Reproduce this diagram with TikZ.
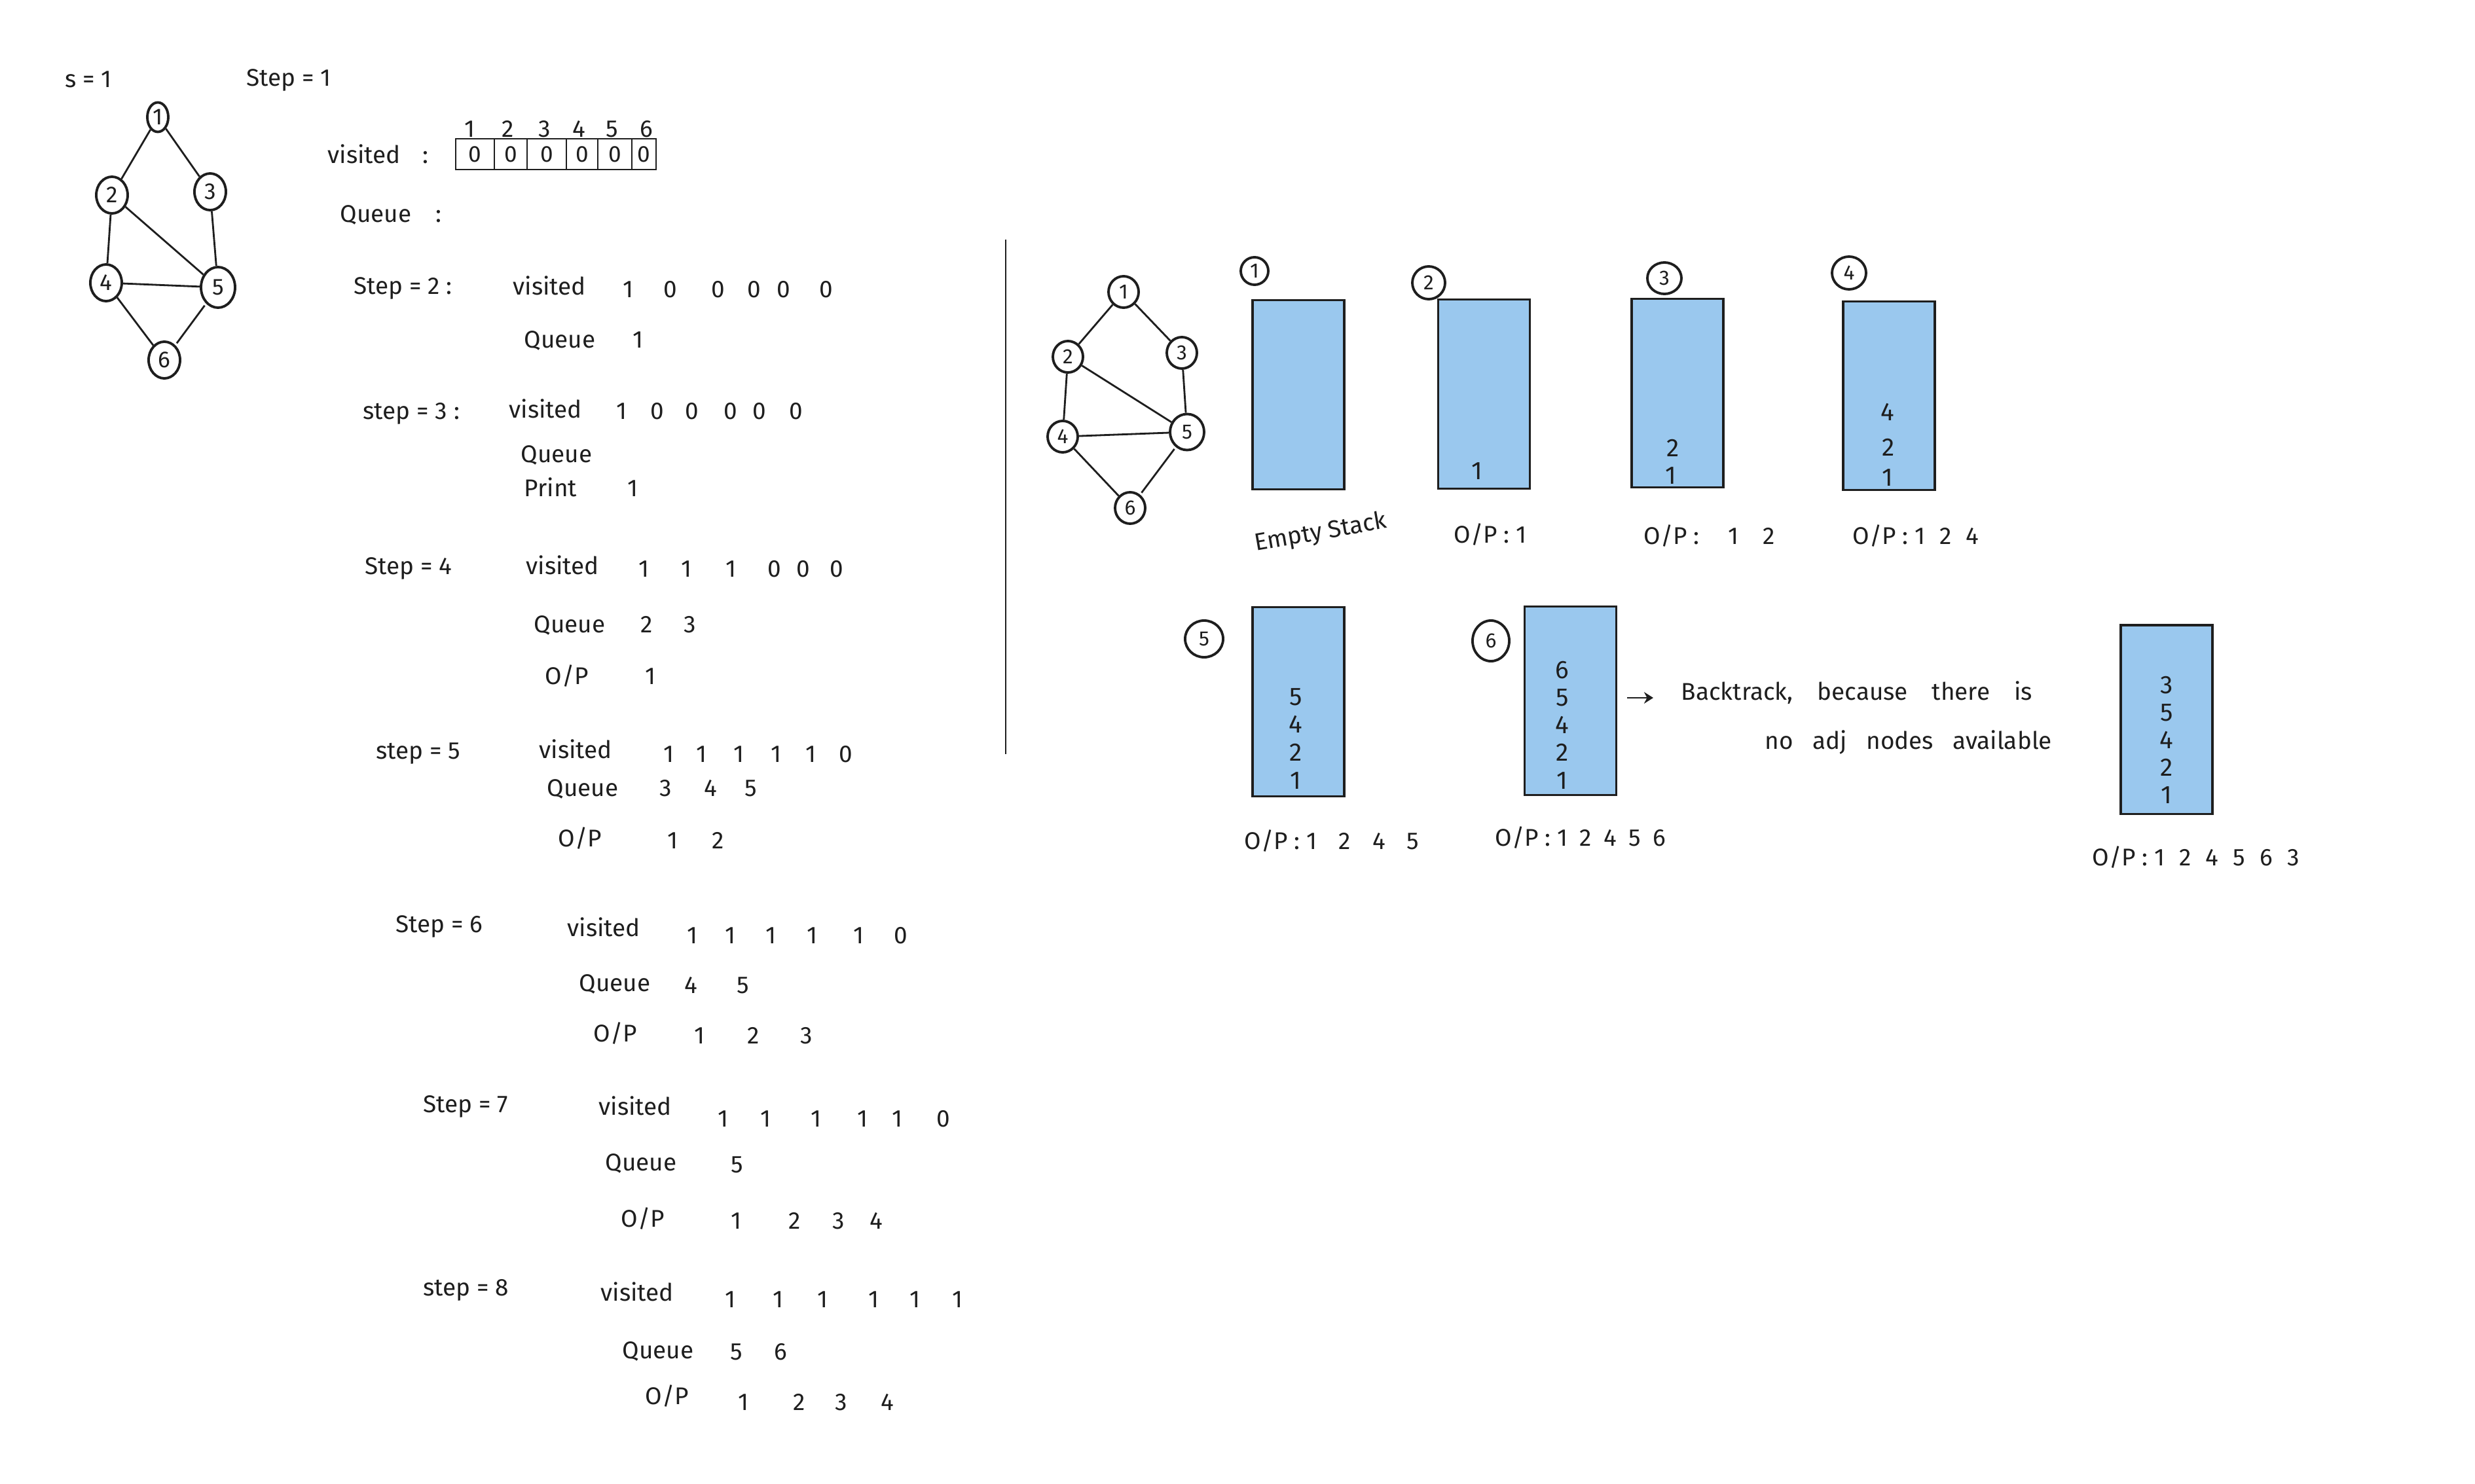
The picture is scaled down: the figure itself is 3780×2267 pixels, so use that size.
\documentclass[tikz,border=0pt]{standalone}
\usepackage{fontspec}
\setmainfont{Fira Sans}
\usetikzlibrary{shapes.geometric,arrows.meta,calc}
\definecolor{stackblue}{RGB}{154,200,238}
\definecolor{ink}{RGB}{30,30,30}
\begin{document}
\begin{tikzpicture}[x=0.01cm,y=-0.01cm,
  hw/.style={font=\fontsize{10.5}{12}\selectfont, inner sep=0pt, text=ink},
  lbl/.style={hw, anchor=mid west},
  num/.style={hw, anchor=mid},
  gnode/.style={draw=ink, line width=1.1pt, ellipse, inner sep=0pt, minimum width=0.48cm, minimum height=0.56cm, font=\fontsize{10}{12}\selectfont, text=ink},
  rnode/.style={gnode, minimum width=0.46cm, minimum height=0.48cm, font=\fontsize{9}{11}\selectfont},
  edge/.style={draw=ink, line width=0.8pt, shorten >=1pt, shorten <=1pt},
  stackbox/.style={draw=ink, line width=0.9pt, fill=stackblue, minimum width=1.4cm, minimum height=2.88cm, inner sep=0pt},
  snum/.style={font=\fontsize{11}{13}\selectfont, inner sep=0pt, anchor=mid, text=ink},
  cell/.style={draw=ink, line width=0.8pt, minimum height=0.47cm, inner sep=0pt, font=\fontsize{10}{12}\selectfont, text=ink},
  stepc/.style={draw=ink, line width=1.1pt, ellipse, inner sep=0pt, font=\fontsize{9}{11}\selectfont, text=ink}
]
\fill[white] (0,0) rectangle (3780,2267);
\useasboundingbox (0,0) rectangle (3780,2267);

% ---------- left graph ----------
\node[gnode, minimum width=0.32cm, minimum height=0.45cm] (a1) at (241,179) {1};
\node[gnode] (a2) at (171,298) {2};
\node[gnode] (a3) at (321,293) {3};
\node[gnode] (a4) at (162,432) {4};
\node[gnode, minimum width=0.52cm, minimum height=0.62cm] (a5) at (333,439) {5};
\node[gnode] (a6) at (251,550) {6};
\draw[edge] (a1)--(a2) (a1)--(a3) (a2)--(a4) (a2)--(a5) (a3)--(a5) (a4)--(a5) (a4)--(a6) (a5)--(a6);

\node[lbl] (sval) at (99,124) {s = 1};
\node[lbl] (st1) at (376,122) {Step = 1};

% visited array
\node[lbl] (vis0) at (500,240) {visited\hspace{0.9em}:};
\node[cell, minimum width=0.59cm] (c1) at (725.5,235.5) {0};
\node[cell, minimum width=0.50cm] (c2) at (780,235.5) {0};
\node[cell, minimum width=0.60cm] (c3) at (835,235.5) {0};
\node[cell, minimum width=0.48cm] (c4) at (889,235.5) {0};
\node[cell, minimum width=0.52cm] (c5) at (939,235.5) {0};
\node[cell, minimum width=0.37cm] (c6) at (983.5,235.5) {0};
\foreach \x/\v [count=\i] in {717/1,776/2,832/3,884/4,935/5,987/6}
  \node[num] (ix\i) at (\x,200) {\v};
\node[lbl] (q0) at (519,330) {Queue\hspace{1em}:};

% step 2
\node[lbl] (st2) at (540,440) {Step = 2 :};
\node[lbl] (vis2) at (783,441) {visited};
\foreach \x/\v [count=\i] in {959/1,1024/0,1097/0,1152/0,1197/0,1262/0}
  \node[num] (vb\i) at (\x,445) {\v};
\node[lbl] (q2) at (800,522) {Queue};
\node[num] (qb1) at (974,522) {1};

% step 3
\node[lbl] (st3) at (554,631) {step = 3 :};
\node[lbl] (vis3) at (777,629) {visited};
\foreach \x/\v [count=\i] in {949/1,1004/0,1057/0,1116/0,1160/0,1216/0}
  \node[num] (vc\i) at (\x,631) {\v};
\node[lbl] (q3) at (795,697) {Queue};
\node[lbl] (pr3) at (800,749) {Print};
\node[num] (pc1) at (966,749) {1};

% step 4
\node[lbl] (st4) at (557,868) {Step = 4};
\node[lbl] (vis4) at (803,868) {visited};
\foreach \x/\v [count=\i] in {983/1,1048/1,1116/1,1183/0,1227/0,1278/0}
  \node[num] (vd\i) at (\x,872) {\v};
\node[lbl] (q4) at (815,957) {Queue};
\foreach \x/\v [count=\i] in {988/2,1054/3}
  \node[num] (qd\i) at (\x,957) {\v};
\node[lbl] (op4) at (832,1036) {O/P};
\node[num] (od1) at (993,1036) {1};

% step 5
\node[lbl] (st5) at (574,1150) {step = 5};
\node[lbl] (vis5) at (823,1149) {visited};
\foreach \x/\v [count=\i] in {1021/1,1071/1,1128/1,1185/1,1238/1,1292/0}
  \node[num] (ve\i) at (\x,1155) {\v};
\node[lbl] (q5) at (835,1207) {Queue};
\foreach \x/\v [count=\i] in {1017/3,1085/4,1147/5}
  \node[num] (qe\i) at (\x,1207) {\v};
\node[lbl] (op5) at (852,1284) {O/P};
\foreach \x/\v [count=\i] in {1027/1,1097/2}
  \node[num] (oe\i) at (\x,1287) {\v};

% step 6
\node[lbl] (st6) at (604,1415) {Step = 6};
\node[lbl] (vis6) at (866,1421) {visited};
\foreach \x/\v [count=\i] in {1057/1,1115/1,1177/1,1240/1,1311/1,1376/0}
  \node[num] (vf\i) at (\x,1432) {\v};
\node[lbl] (q6) at (884,1505) {Queue};
\foreach \x/\v [count=\i] in {1055/4,1135/5}
  \node[num] (qf\i) at (\x,1508) {\v};
\node[lbl] (op6) at (906,1582) {O/P};
\foreach \x/\v [count=\i] in {1068/1,1151/2,1232/3}
  \node[num] (of\i) at (\x,1585) {\v};

% step 7
\node[lbl] (st7) at (646,1690) {Step = 7};
\node[lbl] (vis7) at (914,1694) {visited};
\foreach \x/\v [count=\i] in {1104/1,1169/1,1246/1,1317/1,1370/1,1441/0}
  \node[num] (vg\i) at (\x,1712) {\v};
\node[lbl] (q7) at (924,1779) {Queue};
\node[num] (qg1) at (1126,1782) {5};
\node[lbl] (op7) at (948,1865) {O/P};
\foreach \x/\v [count=\i] in {1124/1,1214/2,1281/3,1338/4}
  \node[num] (og\i) at (\x,1868) {\v};

% step 8
\node[lbl] (st8) at (646,1970) {step = 8};
\node[lbl] (vis8) at (917,1978) {visited};
\foreach \x/\v [count=\i] in {1115/1,1188/1,1256/1,1334/1,1397/1,1462/1}
  \node[num] (vh\i) at (\x,1988) {\v};
\node[lbl] (q8) at (950,2066) {Queue};
\foreach \x/\v [count=\i] in {1125/5,1192/6}
  \node[num] (qh\i) at (\x,2068) {\v};
\node[lbl] (op8) at (985,2136) {O/P};
\foreach \x/\v [count=\i] in {1135/1,1221/2,1285/3,1355/4}
  \node[num] (oh\i) at (\x,2145) {\v};

% divider
\coordinate (dtop) at (1536,366);
\coordinate (dbot) at (1536,1152);
\draw[draw=ink, line width=0.8pt] (dtop) -- (dbot);

% ---------- right graph ----------
\node[rnode] (b1) at (1716,446) {1};
\node[rnode] (b2) at (1631,545) {2};
\node[rnode] (b3) at (1805,539) {3};
\node[rnode] (b4) at (1623,667) {4};
\node[rnode, minimum width=0.52cm, minimum height=0.55cm] (b5) at (1813,660) {5};
\node[rnode] (b6) at (1726,776) {6};
\draw[edge] (b1)--(b2) (b1)--(b3) (b2)--(b4) (b2)--(b5) (b3)--(b5) (b4)--(b5) (b4)--(b6) (b5)--(b6);

% ---------- stacks ----------
\node[stackbox] (k1) at (1983,603) {};
\node[stackbox] (k2) at (2266.5,602) {};
\node[stackbox] (k3) at (2562,600.5) {};
\node[stackbox] (k4) at (2885,604.5) {};
\node[stackbox] (k5) at (1983,1072) {};
\node[stackbox] (k6) at (2398.5,1070.5) {};
\node[stackbox] (k7) at (3309,1099) {};

% step circles
\node[stepc, minimum width=0.42cm, minimum height=0.42cm] (n1) at (1916,414) {1};
\node[stepc, minimum width=0.50cm, minimum height=0.50cm] (n2) at (2182,432) {2};
\node[stepc, minimum width=0.52cm, minimum height=0.48cm] (n3) at (2542,425) {3};
\node[stepc, minimum width=0.52cm, minimum height=0.50cm] (n4) at (2824,417) {4};
\node[stepc, minimum width=0.58cm, minimum height=0.56cm] (n5) at (1839,976) {5};
\node[stepc, minimum width=0.56cm, minimum height=0.62cm] (n6) at (2277,979) {6};

% stack contents
\node[snum] (k2a) at (2256,723) {1};
\node[snum] (k3a) at (2555,688) {2};
\node[snum] (k3b) at (2552,730) {1};
\node[snum] (k4a) at (2883,633) {4};
\node[snum] (k4b) at (2884,687) {2};
\node[snum] (k4c) at (2883,733) {1};
\foreach \y/\v [count=\i] in {1068/5,1110/4,1153/2,1196/1}
  \node[snum] (k5n\i) at (1979,\y) {\v};
\foreach \y/\v [count=\i] in {1027/6,1069/5,1111/4,1153/2,1196/1}
  \node[snum] (k6n\i) at (2386,\y) {\v};
\foreach \y/\v [count=\i] in {1050/3,1092/5,1134/4,1176/2,1218/1}
  \node[snum] (k7n\i) at (3309,\y) {\v};

% labels under stacks
\node[hw, rotate=10, anchor=mid] (emp) at (2017,815) {Empty Stack};
\node[lbl] (o2) at (2220,820) {O/P : 1};
\node[lbl] (o3) at (2510,822) {O/P :\hspace{1.2em}1\hspace{1em}2};
\node[lbl] (o4) at (2829,822) {O/P : 1\hspace{0.6em}2\hspace{0.6em}4};
\node[lbl] (o5) at (1900,1288) {O/P : 1\hspace{0.9em}2\hspace{0.9em}4\hspace{0.9em}5};
\node[lbl] (o6) at (2283,1283) {O/P : 1\hspace{0.5em}2\hspace{0.5em}4\hspace{0.5em}5\hspace{0.5em}6};
\node[lbl] (o7) at (3195,1313) {O/P : 1\hspace{0.6em}2\hspace{0.6em}4\hspace{0.6em}5\hspace{0.6em}6\hspace{0.6em}3};

% backtrack note
\node[lbl] (bt) at (2567,1060) {Backtrack,\hspace{1em}because\hspace{1em}there\hspace{1em}is};
\node[lbl] (nadj) at (2695,1135) {no\hspace{0.8em}adj\hspace{0.8em}nodes\hspace{0.8em}available};
\coordinate (arrS) at (2485,1066);
\coordinate (arrE) at (2525,1066);
\draw[draw=ink, line width=0.8pt, -{Stealth[length=4pt,width=5pt]}] (arrS) -- (arrE);
\end{tikzpicture}
\end{document}
